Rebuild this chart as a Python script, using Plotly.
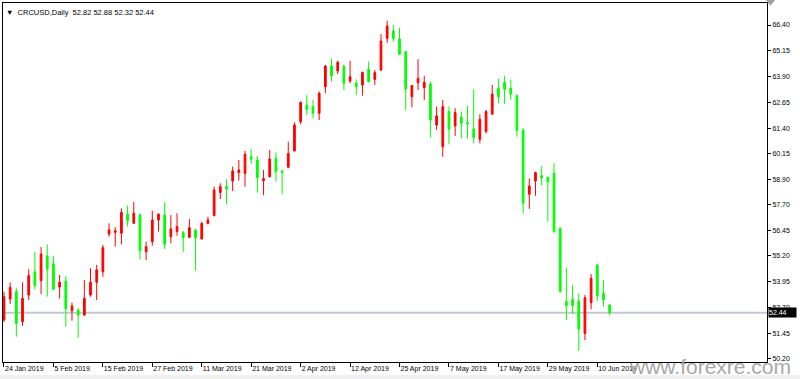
import pandas as pd
import plotly.graph_objects as go

# Trading days (Good Friday 19 Apr 2019 has no bar)
dates = [d.strftime('%Y-%m-%d') for d in pd.bdate_range('2019-01-24', '2019-06-12')
         if d.strftime('%Y-%m-%d') != '2019-04-19']

opens = [52.09, 53.11, 53.47, 52.01, 53.30, 54.43, 54.00, 55.20, 54.81, 53.69,
         53.98, 52.54, 52.58, 52.33, 53.30, 53.92, 54.43, 56.26, 56.34, 56.30,
         57.23, 56.78, 57.20, 55.40, 55.89, 56.94, 57.18, 56.13, 56.38, 56.33,
         56.10, 56.46, 56.02, 56.78, 57.15, 58.27, 58.56, 58.83, 59.24, 59.20,
         60.01, 59.85, 58.85, 59.04, 59.93, 59.32, 59.50, 60.29, 61.71, 62.52,
         62.44, 62.12, 63.41, 64.41, 64.17, 64.41, 63.68, 63.57, 63.49, 64.25,
         63.76, 64.22, 65.75, 66.11, 65.72, 65.11, 62.92, 63.60, 63.36, 63.54,
         61.55, 60.50, 62.20, 61.50, 61.92, 61.66, 61.36, 60.85, 61.23, 62.08,
         63.33, 63.62, 63.33, 62.97, 61.31, 58.19, 58.83, 59.09, 59.01, 59.21,
         56.54, 52.98, 53.09, 53.01, 51.44, 52.93, 54.76, 53.38, 52.82]
highs = [53.47, 53.92, 53.63, 53.92, 54.55, 55.39, 55.63, 55.76, 55.20, 54.27,
         54.22, 52.93, 52.66, 54.03, 54.60, 54.76, 55.73, 56.78, 56.59, 57.51,
         57.64, 57.81, 57.23, 55.89, 57.39, 57.27, 57.81, 57.18, 57.27, 56.42,
         56.99, 56.49, 56.86, 57.10, 58.56, 58.72, 58.91, 59.53, 59.85, 60.29,
         60.38, 60.05, 59.37, 60.34, 60.21, 59.37, 60.74, 61.68, 62.68, 63.00,
         62.76, 63.17, 64.46, 64.78, 64.67, 64.46, 64.67, 63.76, 64.14, 64.62,
         64.22, 65.96, 66.61, 66.40, 66.27, 65.14, 63.49, 64.74, 63.93, 63.65,
         62.44, 62.76, 62.44, 62.36, 62.20, 62.47, 63.28, 62.07, 62.28, 63.49,
         63.78, 63.94, 63.76, 63.04, 61.39, 58.96, 59.29, 59.56, 59.04, 59.69,
         56.57, 54.63, 53.79, 53.38, 53.30, 54.32, 54.81, 54.03, 52.88]
lows = [52.00, 52.87, 51.28, 51.81, 53.06, 53.58, 53.35, 53.22, 53.55, 53.14,
        51.77, 52.06, 51.23, 52.30, 53.22, 53.06, 54.19, 56.13, 55.65, 55.76,
        56.62, 56.75, 55.03, 55.00, 55.70, 56.38, 55.53, 55.81, 56.18, 55.40,
        56.08, 54.48, 56.00, 56.73, 57.13, 57.96, 57.70, 58.35, 58.85, 58.56,
        59.66, 58.27, 58.15, 59.01, 58.80, 58.19, 59.45, 60.27, 61.58, 62.03,
        61.87, 61.79, 63.09, 63.65, 64.02, 63.25, 63.57, 63.00, 62.97, 63.62,
        63.49, 64.17, 65.54, 65.59, 64.95, 62.28, 62.41, 63.25, 62.76, 60.94,
        61.31, 60.01, 60.61, 61.02, 60.90, 60.90, 60.66, 60.66, 61.15, 62.03,
        62.60, 62.57, 62.76, 60.98, 57.26, 57.48, 58.12, 58.61, 56.86, 56.33,
        53.42, 52.09, 52.38, 50.59, 51.12, 52.61, 53.01, 52.74, 52.32]
closes = [53.22, 53.67, 51.93, 53.14, 54.24, 53.76, 55.29, 54.56, 53.58, 53.92,
          52.64, 52.77, 52.33, 53.14, 53.92, 54.52, 55.60, 56.46, 56.42, 57.31,
          56.91, 57.27, 55.45, 55.65, 56.94, 57.22, 55.76, 56.51, 56.62, 56.08,
          56.57, 56.08, 56.78, 56.94, 58.40, 58.56, 58.46, 59.32, 59.37, 60.13,
          59.90, 58.99, 58.95, 59.90, 59.29, 59.24, 60.17, 61.55, 62.65, 62.31,
          62.12, 63.09, 64.41, 63.94, 64.59, 63.57, 63.89, 63.41, 64.10, 63.65,
          64.09, 65.62, 66.35, 65.75, 64.98, 63.30, 63.46, 63.81, 63.62, 61.79,
          61.99, 62.44, 61.35, 62.15, 61.63, 61.60, 60.94, 61.82, 62.20, 63.05,
          62.92, 63.28, 63.05, 61.29, 57.75, 58.59, 59.24, 58.99, 58.80, 56.37,
          53.47, 52.79, 52.79, 51.65, 53.17, 54.11, 53.27, 53.06, 52.44]

x_tick_dates = ['2019-01-24', '2019-02-05', '2019-02-15', '2019-02-27', '2019-03-11',
                '2019-03-21', '2019-04-02', '2019-04-12', '2019-04-25', '2019-05-07',
                '2019-05-17', '2019-05-29', '2019-06-10']
x_tick_labels = ['24 Jan 2019', '5 Feb 2019', '15 Feb 2019', '27 Feb 2019', '11 Mar 2019',
                 '21 Mar 2019', '2 Apr 2019', '12 Apr 2019', '25 Apr 2019', '7 May 2019',
                 '17 May 2019', '29 May 2019', '10 Jun 2019']
y_tick_labels = ['50.20', '51.45', '52.70', '53.95', '55.20', '56.45', '57.70',
                 '58.90', '60.15', '61.40', '62.65', '63.90', '65.15', '66.40']
symbol = 'CRCUSD,Daily'
last_price = 52.44

FONT = 'Liberation Sans'

fig = go.Figure(go.Candlestick(
    x=dates, open=opens, high=highs, low=lows, close=closes,
    increasing=dict(line=dict(color='#ff0000', width=1), fillcolor='#ff0000'),
    decreasing=dict(line=dict(color='#00ff00', width=1), fillcolor='#00ff00'),
    whiskerwidth=0, showlegend=False,
))

fig.update_layout(
    width=800, height=379,
    margin=dict(l=3, r=33, t=3, b=17, pad=0, autoexpand=False),
    paper_bgcolor='white', plot_bgcolor='white',
    boxgap=0.6,
    font=dict(family=FONT, size=7, color='black'),
    xaxis=dict(
        type='category', range=[-0.16, 123.46], automargin=False,
        rangeslider=dict(visible=False),
        showgrid=False, zeroline=False,
        showline=True, linecolor='black', linewidth=1, mirror=True,
        ticks='outside', ticklen=4, tickcolor='black', tickwidth=1,
        tickvals=x_tick_dates, ticktext=x_tick_labels, tickangle=0,
        ticklabelposition='outside right',
        tickfont=dict(family=FONT, size=7, color='black'),
    ),
    yaxis=dict(
        side='right', range=[50.054, 67.467], automargin=False,
        showgrid=False, zeroline=False,
        showline=True, linecolor='black', linewidth=1, mirror=True,
        ticks='outside', ticklen=3, tickcolor='black', tickwidth=1,
        tickvals=[float(t) for t in y_tick_labels], ticktext=y_tick_labels,
        tickfont=dict(family=FONT, size=7, color='black'),
    ),
    shapes=[
        dict(type='line', xref='paper', yref='y', x0=0, x1=1, y0=last_price, y1=last_price,
             line=dict(color='#c3c9d0', width=2), layer='below'),
        dict(type='rect', xref='paper', yref='paper', x0=-0.01, x1=1.05,
             y0=-0.0475, y1=-0.0365, fillcolor='#f0f0f0', line=dict(width=0), layer='below'),
        dict(type='path', xref='paper', yref='paper',
             path='M 0.9985 1.0084 L 1.0105 1.0084 L 1.0045 0.992 Z',
             fillcolor='#a0a0a0', line=dict(width=0)),
    ],
    annotations=[
        dict(xref='paper', yref='paper', x=0, y=1, xanchor='left', yanchor='top',
             xshift=1, yshift=-3, showarrow=False,
             text='▼  ' + symbol + '  ' + ' '.join(f'{v:.2f}' for v in
                  [opens[-1], highs[-1], lows[-1], closes[-1]]),
             font=dict(family=FONT, size=7.5, color='black')),
        dict(xref='paper', yref='y', x=1, y=last_price, xanchor='left', yanchor='middle',
             xshift=1, showarrow=False, text=f'{last_price:.2f}', bgcolor='black',
             width=27, height=9, align='left', borderpad=0,
             font=dict(family=FONT, size=7, color='white')),
        dict(xref='paper', yref='paper', x=0.925, y=-0.012, xanchor='center', yanchor='middle',
             showarrow=False, text='www.forexre.com',
             font=dict(family=FONT, size=21, color='#a8a8a8')),
    ],
)

fig.write_html('out.html', config={'displayModeBar': False},
               post_script="document.body.style.margin='0px';")
